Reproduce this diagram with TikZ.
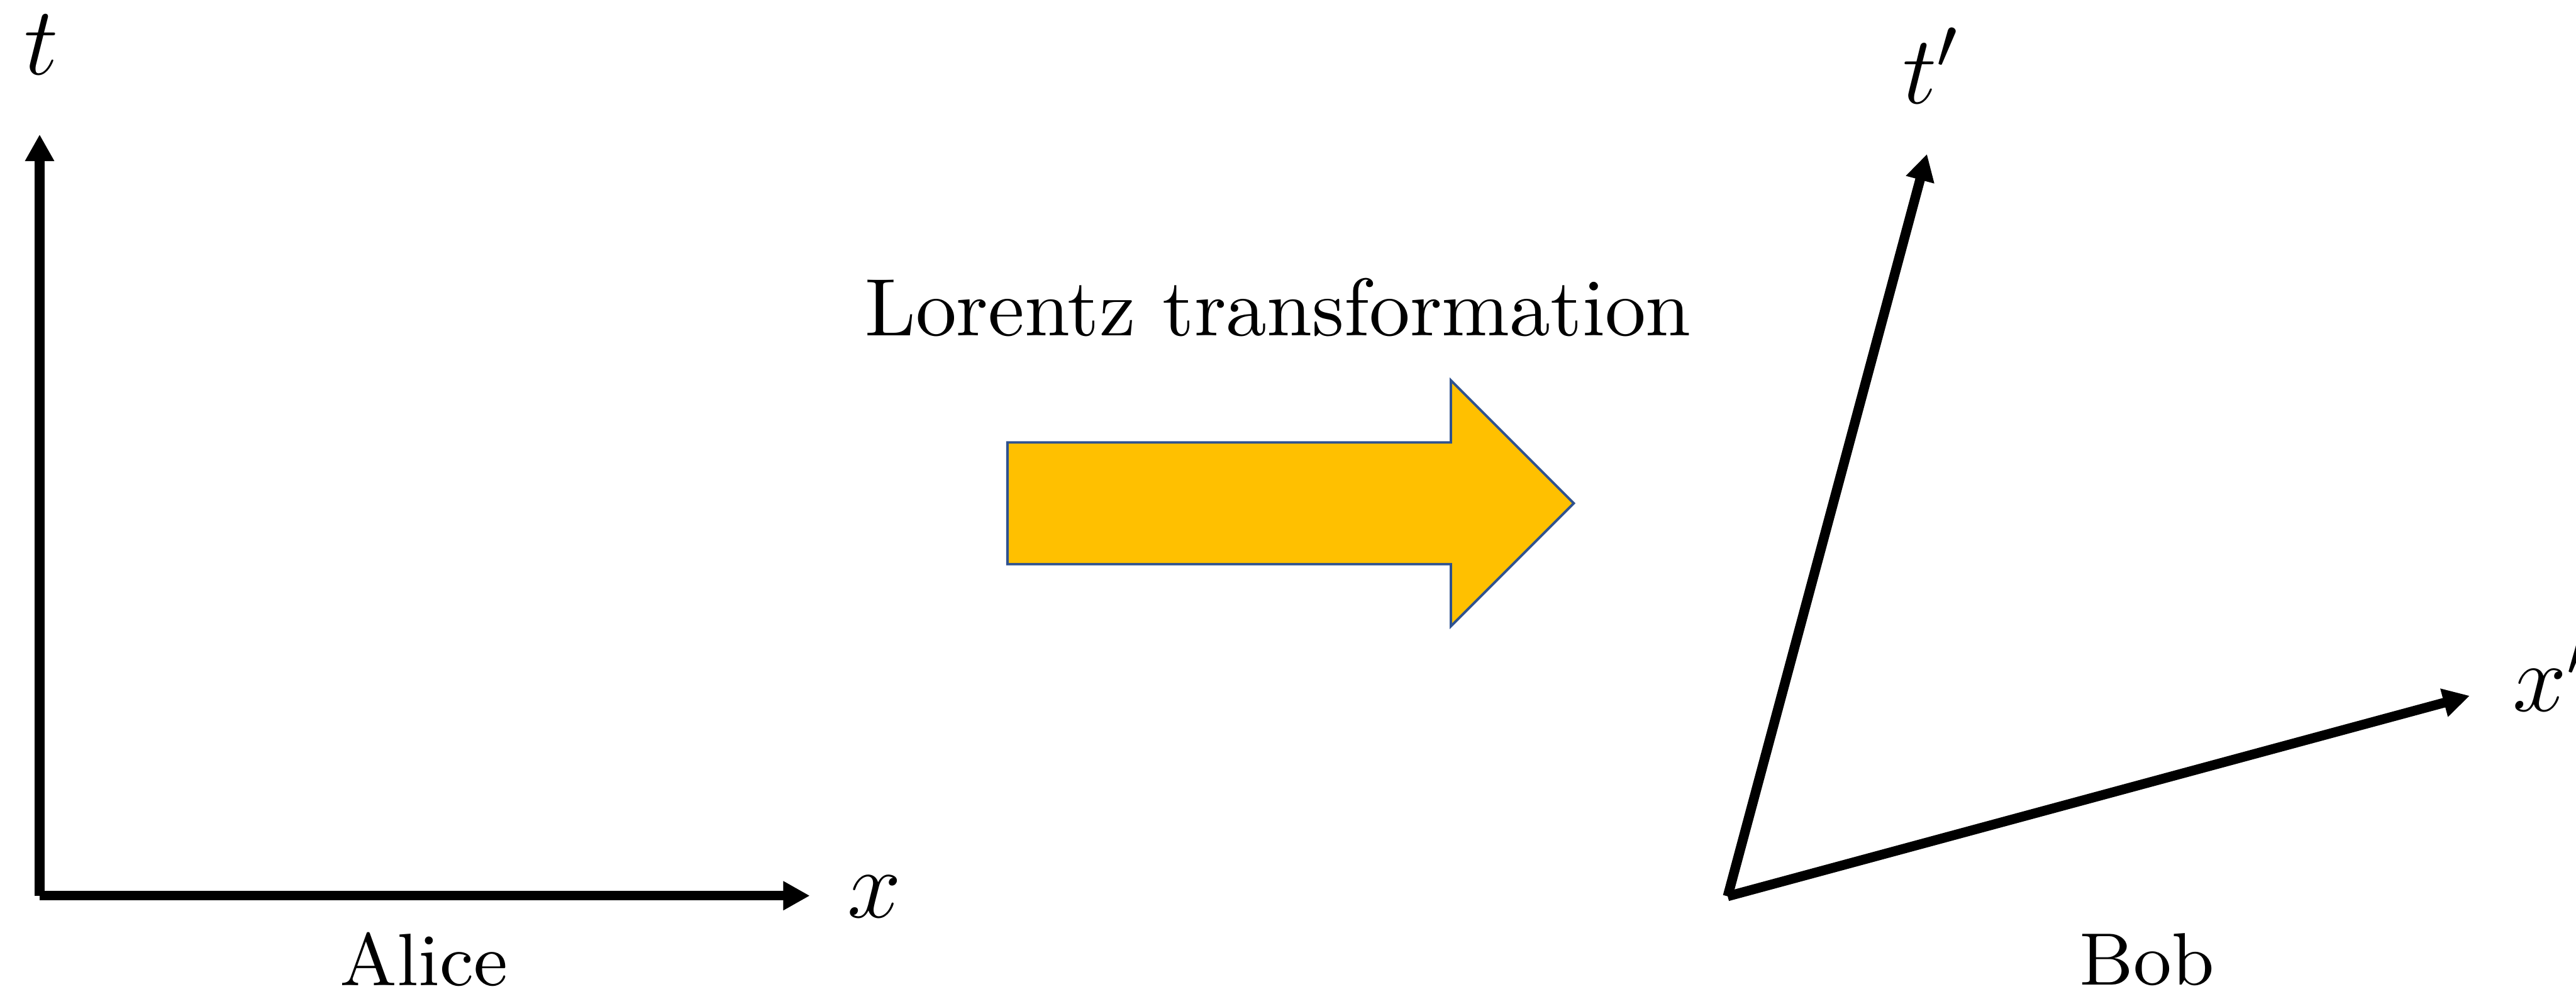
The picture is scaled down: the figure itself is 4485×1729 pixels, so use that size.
\documentclass[tikz,border=0pt]{standalone}
\usepackage{xcolor}
\usepackage{tikz}
\usetikzlibrary{arrows.meta}

\definecolor{arrowgold}{HTML}{FFC000}
\definecolor{arrowedge}{HTML}{2F528F}

\begin{document}
\begin{tikzpicture}[x=0.0025cm, y=-0.0025cm]
    \tikzstyle{axis} = [draw, line width=1.2pt, -{Triangle[length=3.3pt, width=3.4pt]}]
    \tikzstyle{lbl} = [inner sep=0pt, font=\fontsize{13}{15}\selectfont]
    \tikzstyle{caption} = [inner sep=0pt, font=\fontsize{9.2}{11}\selectfont]
    \tikzstyle{bigarrow} = [fill=arrowgold, draw=arrowedge, line width=0.3pt]

    \useasboundingbox (0,0) rectangle (4485,1729);

    % Alice's frame
    \coordinate (aO) at (69,1559);
    \coordinate (aT) at (69,234);
    \coordinate (aX) at (1410,1559);
    \path [axis] (aO) -- (aT);
    \path [axis] (aO) -- (aX);
    \node [lbl, anchor=base] (tlbl) at (72,130) {$t$};
    \node [lbl, anchor=base] (xlbl) at (1522,1597) {$x$};
    \node [caption] (alice) at (738,1670) {Alice};

    % transformation arrow
    \node [caption, font=\fontsize{10.1}{12}\selectfont] (lorentz) at (2225,535) {Lorentz transformation};
    \path [bigarrow] (1754,770) -- (2526,770) -- (2526,662) -- (2740,876)
        -- (2526,1090) -- (2526,982) -- (1754,982) -- cycle;

    % Bob's frame
    \coordinate (bO) at (3008,1560);
    \coordinate (bT) at (3355,268);
    \coordinate (bX) at (4300,1211);
    \path [axis] (bO) -- (bT);
    \path [axis] (bO) -- (bX);
    \node [lbl, anchor=base west] (tplbl) at (3310,180) {$t'$};
    \node [lbl, anchor=base west] (xplbl) at (4372,1238) {$x'$};
    \node [caption] (bob) at (3738,1670) {Bob};
\end{tikzpicture}
\end{document}
